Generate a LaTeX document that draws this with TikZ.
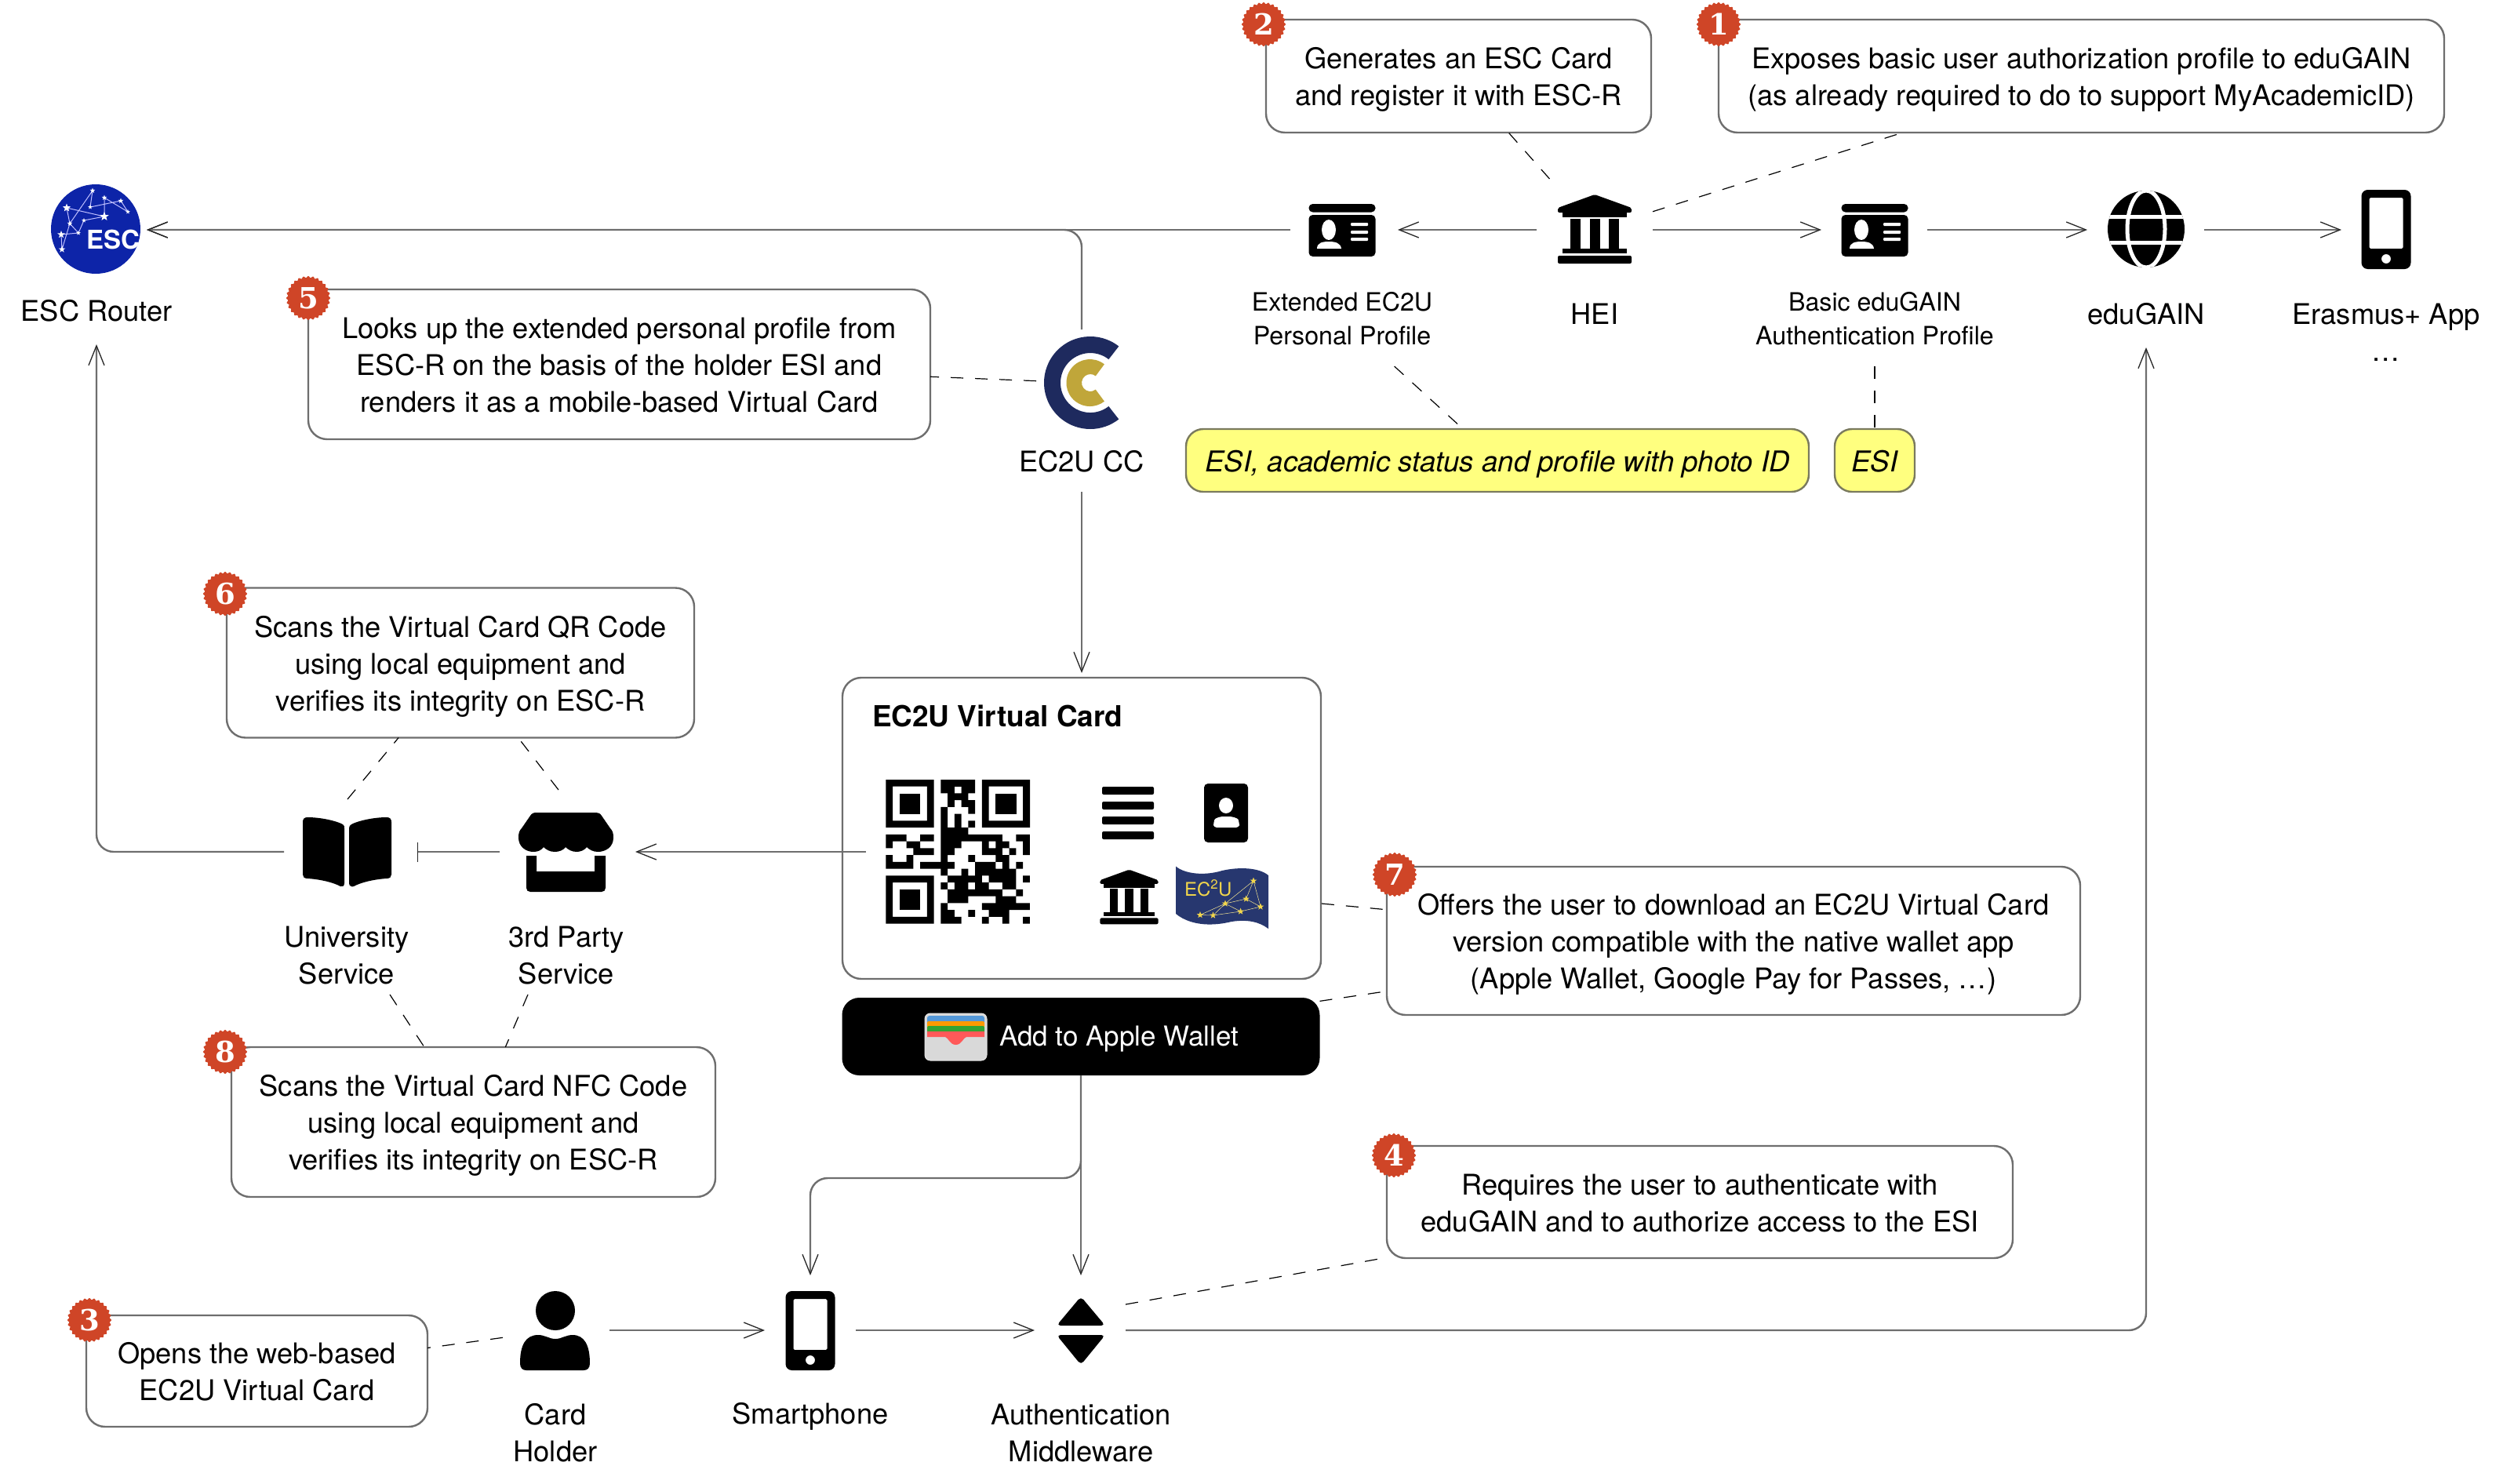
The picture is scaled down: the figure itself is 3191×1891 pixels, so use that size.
\documentclass[tikz,border=0pt]{standalone}
\usepackage{fontspec}
\setmainfont{TeX Gyre Heros}
\newfontfamily\badgefont{DejaVu Serif}
\usetikzlibrary{arrows.meta,shapes.geometric}
\definecolor{linegrey}{HTML}{6E6E6E}
\definecolor{badgered}{HTML}{CF4527}
\definecolor{noteyellow}{HTML}{FFFF7F}
\definecolor{yellowline}{HTML}{7A7A5E}
\definecolor{escblue}{HTML}{0D24A8}
\definecolor{ccnavy}{HTML}{1E2A5E}
\definecolor{ccgold}{HTML}{C0A63A}
\definecolor{flagnavy}{HTML}{27376F}
\definecolor{flaggold}{HTML}{F2D64B}
\newcommand{\nt}{\rule{0pt}{38pt}}
\newcommand{\nb}{\rule[-10pt]{0pt}{10pt}}
\tikzset{
  mainfont/.style={font=\fontsize{36.3}{47}\selectfont},
  smallfont/.style={font=\fontsize{32.2}{42.7}\selectfont},
  note/.style={draw=linegrey,line width=2.4pt,fill=white,rounded corners=24pt,align=center,inner sep=0pt,outer sep=0pt,mainfont},
  hl/.style={draw=yellowline,line width=2.4pt,fill=noteyellow,rounded corners=22pt,align=center,inner sep=0pt,outer sep=0pt,font=\fontsize{36.6}{47}\selectfont\itshape},
  lab/.style={align=center,inner sep=0pt,outer sep=0pt,mainfont},
  slab/.style={align=center,inner sep=0pt,outer sep=0pt,smallfont},
  hold/.style={inner sep=0pt,outer sep=0pt},
  arr/.style={draw=linegrey,line width=2.4pt,-{Straight Barb[length=25pt,width=20pt,line width=1.3pt,black!85]}},
  teearr/.style={draw=linegrey,line width=2.4pt,-{Bar[width=25pt,line width=1.3pt,black!85]}},
  dash line/.style={draw=black,line width=1.2pt,dash pattern=on 16pt off 15pt},
  smallstar/.style={star,star points=5,star point ratio=2.4,fill=#1,inner sep=0pt,outer sep=0pt,minimum size=9pt},
  idcard/.pic={
    \fill[rounded corners=5pt] (-42.5,-33.5) -- (42.5,-33.5) -- (42.5,-23) -- (-42.5,-23) -- cycle;
    \fill[rounded corners=5pt] (-42.5,-19.5) -- (42.5,-19.5) -- (42.5,33.5) -- (-42.5,33.5) -- cycle;
    \fill[white] (-17,-0.5) ellipse (9pt and 13pt);
    \fill[white] (-32,23.5) .. controls (-32,16) and (-25,14.5) .. (-17,14.5) .. controls (-9,14.5) and (-2,16) .. (-1,23.5) -- cycle;
    \fill[white,rounded corners=1pt] (11,-9.5) rectangle (33,-5.5);
    \fill[white,rounded corners=1pt] (11,0.5) rectangle (33,4.5);
    \fill[white,rounded corners=1pt] (11,9.5) rectangle (33,13.5);
  },
  bank/.pic={
    \fill[rounded corners=2pt] (0,-44) -- (47,-27) -- (47,-21) -- (-47,-21) -- (-47,-27) -- cycle;
    \fill (-41,-22) rectangle (41,-15);
    \fill (-31,-13) rectangle (-18,25);
    \fill (-6.5,-13) rectangle (6.5,25);
    \fill (18,-13) rectangle (31,25);
    \fill (-41,25) rectangle (41,31);
    \fill[rounded corners=2pt] (-47,34) rectangle (47,44);
  },
  phone/.pic={
    \fill[even odd rule,rounded corners=8pt] (-31.5,-50.5) rectangle (31.5,50.5)
      [rounded corners=1.5pt] (-21.5,-40.5) rectangle (21.5,24.5) (0,37.5) circle (6pt);
  }
}
\newcommand{\badge}[4]{%
  \fill[badgered] plot[domain=0:360,samples=181] ({#2+(27+1.1*cos(28*\x))*cos(\x)},{#3+(27+1.1*cos(28*\x))*sin(\x)}) -- cycle;
  \node[hold,text=white,font=\badgefont\fontsize{37}{37}\selectfont\bfseries] (#1) at (#2,#3) {#4};}
\begin{document}
\begin{tikzpicture}[x=1pt,y=-1pt]
\useasboundingbox (0,0) rectangle (3191,1891);
\fill[white] (0,0) rectangle (3191,1891);

% note boxes
\node[note,minimum width=491pt,minimum height=144pt] (box2) at (1859.5,97) {\nt Generates an ESC Card\\and register it with ESC-R\nb};
\node[note,minimum width=925pt,minimum height=144pt] (box1) at (2653.5,97) {\nt Exposes basic user authorization profile to eduGAIN\\(as already required to do to support MyAcademicID)\nb};
\node[note,minimum width=793pt,minimum height=191pt] (box5) at (789.5,464.5) {\nt Looks up the extended personal profile from\\ESC-R on the basis of the holder ESI and\\renders it as a mobile-based Virtual Card\nb};
\node[note,minimum width=596pt,minimum height=191pt] (box6) at (587,845) {\nt Scans the Virtual Card QR Code\\using local equipment and\\verifies its integrity on ESC-R\nb};
\node[note,minimum width=617pt,minimum height=191pt] (box8) at (603.5,1430.5) {\nt Scans the Virtual Card NFC Code\\using local equipment and\\verifies its integrity on ESC-R\nb};
\node[note,minimum width=435pt,minimum height=142pt] (box3) at (327.5,1748) {\nt Opens the web-based\\EC2U Virtual Card\nb};
\node[note,minimum width=798pt,minimum height=143pt] (box4) at (2167,1532.5) {\nt Requires the user to authenticate with\\eduGAIN and to authorize access to the ESI\nb};
\node[note,minimum width=884pt,minimum height=189pt] (box7) at (2210,1199.5) {\nt Offers the user to download an EC2U Virtual Card\\version compatible with the native wallet app\\(Apple Wallet, Google Pay for Passes, \ldots)\nb};
\node[hl,minimum width=794pt,minimum height=80pt] (yel1) at (1909,587) {\nt ESI, academic status and profile with photo ID\nb};
\node[hl,minimum width=102pt,minimum height=80pt] (yel2) at (2390,587) {\nt ESI\nb};

% Virtual Card
\node[note,minimum width=610pt,minimum height=384pt] (vc) at (1379,1056) {};
\node[inner sep=0pt,outer sep=0pt,anchor=west,font=\fontsize{37}{44}\selectfont\bfseries] (vctitle) at (1112,913) {EC2U Virtual Card};
\node[hold,minimum width=609pt,minimum height=99pt,fill=black,rounded corners=22pt] (btn) at (1378,1321.5) {};
\node[hold,text=white,anchor=west,font=\fontsize{35}{40}\selectfont] (btntext) at (1274,1325) {Add to Apple Wallet};

% wallet icon
\fill[fill=black!15!white,draw=white!90!black,line width=1pt,rounded corners=7pt] (1179,1292) rectangle (1258,1352);
\fill[rounded corners=3pt,fill=cyan!60!blue!70!white] (1182,1295) rectangle (1255,1306);
\fill[rounded corners=2pt,fill=orange!80!yellow] (1182,1302) rectangle (1255,1311);
\fill[rounded corners=2pt,fill=green!55!black!80!white] (1182,1308) rectangle (1255,1317);
\fill[fill=red!65!white] (1182,1315) -- (1255,1315) -- (1255,1322) -- (1232,1322) .. controls (1228,1323) and (1226,1332) .. (1218.5,1332) .. controls (1211,1332) and (1209,1323) .. (1205,1322) -- (1182,1322) -- cycle;

% QR code
\node[hold,minimum width=234pt,minimum height=184pt] (qr) at (1221,1086) {};
\fill[even odd rule] (1129.4,994) rectangle ++(61.2,61.2) (1138.1,1002.7) rectangle ++(43.7,43.7);
\fill (1146.9,1011.5) rectangle ++(26.2,26.2);
\fill[even odd rule] (1251.8,994) rectangle ++(61.2,61.2) (1260.5,1002.7) rectangle ++(43.7,43.7);
\fill (1269.3,1011.5) rectangle ++(26.2,26.2);
\fill[even odd rule] (1129.4,1116.4) rectangle ++(61.2,61.2) (1138.1,1125.1) rectangle ++(43.7,43.7);
\fill (1146.9,1133.9) rectangle ++(26.2,26.2);
\fill \foreach \r/\c/\n in {0/8/5,1/8/2,1/11/2,2/9/3,3/9/1,3/11/2,4/8/1,4/12/1,5/8/1,5/10/1,6/8/1,6/10/1,6/12/1,7/8/4,
  8/0/3,8/5/2,8/8/9,8/19/2,
  9/0/1,9/3/2,9/8/3,9/14/1,9/16/2,9/20/1,
  10/4/3,10/8/2,10/14/3,10/18/1,10/20/1,
  11/0/1,11/3/1,11/8/1,11/12/1,11/16/2,
  12/0/4,12/5/5,12/13/3,12/17/1,12/19/1,
  13/8/1,13/11/1,13/13/6,
  14/9/5,14/15/4,14/20/1,
  15/8/1,15/10/2,15/13/2,15/17/2,
  16/9/8,16/19/1,
  17/9/3,17/16/3,
  18/8/1,18/14/7,
  19/8/2,19/12/1,19/15/3,
  20/8/3,20/14/1,20/17/1,20/20/1}
  { ({1129.4+\c*8.74},{994+\r*8.74}) rectangle ({1129.4+(\c+\n)*8.74},{994+(\r+1)*8.74}) };

% mini icons in the card
\foreach \yy in {1003,1022,1041,1060} \fill[rounded corners=2pt] (1405,\yy) rectangle (1471,\yy+10);
\fill[rounded corners=5pt] (1535,999) rectangle (1591,1074);
\fill[white] (1563,1027) ellipse (9pt and 10pt);
\fill[white,rounded corners=4pt] (1547,1055) -- (1547,1049) .. controls (1549,1043) and (1556,1041) .. (1563,1041) .. controls (1571,1041) and (1578,1043) .. (1580,1049) -- (1580,1055) -- cycle;
\pic[scale=.79] at (1439.5,1143.5) {bank};
\fill[flagnavy] (1499,1104.5) .. controls (1510,1114) and (1535,1117) .. (1558,1110) .. controls (1580,1105) and (1605,1106) .. (1617,1116) -- (1617,1184) .. controls (1605,1175) and (1590,1172) .. (1570,1175) .. controls (1550,1180) and (1520,1182) .. (1499,1165) -- cycle;
\draw[flaggold!60!white,line width=.5pt] (1598,1123) -- (1562,1152) -- (1530,1166.5) (1598,1123) -- (1607,1156) -- (1581.6,1162) -- (1546.5,1167) -- (1562,1152) -- (1588.6,1146) -- (1607,1156) (1562,1152) -- (1581.6,1162) (1530,1166.5) -- (1546.5,1167) (1598,1123) -- (1588.6,1146);
\foreach \px/\py in {1598/1123,1588.6/1146,1607/1156,1562/1152,1581.6/1162,1530/1166.5,1546.5/1167}
  \node[smallstar=flaggold] at (\px,\py) {};
\node[hold,text=flaggold,font=\fontsize{24}{24}\selectfont,anchor=west] (flagtext) at (1510,1132) {EC\textsuperscript{2}U};

% ESC logo
\node[hold,minimum width=130pt,minimum height=130pt] (esc) at (122,293) {};
\fill[escblue] (122,292) circle (57pt);
\draw[white!75!blue,line width=1pt] (118,243) -- (89,285) -- (79,318) (118,243) -- (115,264) -- (154,256) (133,252) -- (163,270) -- (154,256) (133,252) -- (133,276) -- (85,265) -- (89,285) -- (100,297) (133,276) -- (107,281) -- (100,297) -- (78,299) -- (79,318);
\foreach \px/\py/\sz in {118/243/7,85/265/11,115/264/6,133/252/7,154/256/7,163/270/6,133/276/12,89/285/7,107/281/6,100/297/6,78/299/10,79/318/9}
  \node[star,star points=5,star point ratio=2.4,fill=white,inner sep=0pt,minimum size=\sz pt] at (\px,\py) {};
\node[hold,text=white,font=\fontsize{33}{33}\selectfont\bfseries] (esctext) at (144,305) {ESC};
\node[lab,minimum height=86pt] (esclab) at (123,396) {ESC Router};

% CC logo
\node[hold,minimum width=116pt,minimum height=136pt] (cc) at (1379,488) {};
\fill[ccnavy] (1426.3,441.5) arc[start angle=52,end angle=308,radius=59pt] -- (1413.4,518) arc[start angle=308,end angle=52,radius=38pt] -- cycle;
\fill[ccgold] (1407.9,464.4) arc[start angle=52,end angle=308,radius=30pt] -- (1396.8,496.7) arc[start angle=308,end angle=52,radius=11pt] -- cycle;
\node[lab,minimum height=78pt] (cclab) at (1379,588) {EC2U CC};

% top row
\node[hold,minimum width=137pt,minimum height=130pt] (ext) at (1713.5,293) {};
\pic at (1711,293.5) {idcard};
\node[slab,minimum height=122pt] (extlab) at (1711,406) {Extended EC2U\\Personal Profile};
\node[hold,minimum width=148pt,minimum height=130pt] (hei) at (2033,293) {};
\pic at (2033,292) {bank};
\node[lab] (heilab) at (2033,400) {HEI};
\node[hold,minimum width=135pt,minimum height=130pt] (bas) at (2389.5,293) {};
\pic at (2390,293.5) {idcard};
\node[slab,minimum height=122pt] (baslab) at (2390,406) {Basic eduGAIN\\Authentication Profile};
\node[hold,minimum width=149pt,minimum height=130pt] (edu) at (2735.5,293) {};
\fill (2736,292) circle (49pt);
\begin{scope}
  \clip (2736,292) circle (49pt);
  \draw[white,line width=5pt] (2736,292) ellipse (24pt and 49pt);
  \draw[white,line width=5pt] (2680,276.5) -- (2790,276.5) (2680,309.5) -- (2790,309.5);
\end{scope}
\node[lab,minimum height=86pt] (edulab) at (2736,400) {eduGAIN};
\node[hold,minimum width=114pt,minimum height=130pt] (era) at (3042,293) {};
\pic at (3042,292.5) {phone};
\node[lab] (eralab) at (3042,424) {Erasmus+ App\\\ldots};

% services
\node[hold,minimum width=170pt,minimum height=130pt] (uni) at (447,1086) {};
\fill (392,1042) .. controls (410,1042) and (430,1047) .. (437,1051) .. controls (439,1052) and (439,1054) .. (439,1056) -- (439,1126) .. controls (439,1130) and (436,1131) .. (434,1130) .. controls (425,1125) and (408,1121) .. (392,1120) .. controls (388,1120) and (386,1118) .. (386,1115) -- (386,1048) .. controls (386,1044) and (388,1042) .. (392,1042) -- cycle;
\fill (493,1042) .. controls (475,1042) and (455,1047) .. (448,1051) .. controls (446,1052) and (445,1054) .. (445,1056) -- (445,1126) .. controls (445,1130) and (449,1131) .. (451,1130) .. controls (460,1125) and (477,1121) .. (493,1120) .. controls (497,1120) and (499,1118) .. (499,1115) -- (499,1048) .. controls (499,1044) and (497,1042) .. (493,1042) -- cycle;
\node[lab] (unilab) at (442,1218) {University\\Service};
\node[hold,minimum width=173pt,minimum height=130pt] (shop) at (723.5,1086) {};
\fill (684,1036) -- (760,1036) .. controls (763,1036) and (765,1037) .. (767,1040) -- (778,1056) .. controls (781,1059) and (782,1062) .. (782,1068) .. controls (782,1080) and (772,1086) .. (762,1086) .. controls (756,1086) and (751,1083) .. (748,1080) .. controls (745,1084) and (740,1086) .. (735,1086) .. controls (729,1086) and (724,1083) .. (721,1080) .. controls (718,1084) and (713,1086) .. (707,1086) .. controls (701,1086) and (696,1083) .. (693,1080) .. controls (690,1084) and (686,1086) .. (680,1086) .. controls (670,1086) and (661,1079) .. (661,1068) .. controls (661,1062) and (662,1059) .. (665,1056) -- (676,1040) .. controls (678,1037) and (680,1036) .. (684,1036) -- cycle;
\fill (671,1091) -- (684,1091) -- (684,1111) -- (758,1111) -- (758,1091) -- (772,1091) -- (772,1132) .. controls (772,1135) and (770,1137) .. (767,1137) -- (676,1137) .. controls (673,1137) and (671,1135) .. (671,1132) -- cycle;
\node[lab] (shoplab) at (722,1218) {3rd Party\\Service};

% bottom row
\node[hold,minimum width=136pt,minimum height=140pt] (holder) at (709,1696) {};
\fill (708,1671) ellipse (25pt and 25pt);
\fill (663,1738) .. controls (663,1715) and (670,1702) .. (686,1702) .. controls (695,1702) and (700,1707) .. (708,1707) .. controls (716,1707) and (721,1702) .. (730,1702) .. controls (745,1702) and (752,1715) .. (752,1738) .. controls (752,1744) and (749,1747) .. (744,1747) -- (671,1747) .. controls (666,1747) and (663,1744) .. (663,1738) -- cycle;
\node[lab] (holderlab) at (708,1827) {Card\\Holder};
\node[hold,minimum width=116pt,minimum height=140pt] (smart) at (1033,1696) {};
\pic at (1033,1696.5) {phone};
\node[lab] (smartlab) at (1033,1806) {Smartphone};
\node[hold,minimum width=116pt,minimum height=140pt] (mw) at (1377,1696) {};
\fill[rounded corners=5pt] (1378,1653) -- (1409,1690) -- (1347,1690) -- cycle;
\fill[rounded corners=5pt] (1378,1740) -- (1409,1702) -- (1347,1702) -- cycle;
\node[lab] (mwlab) at (1378,1827) {Authentication\\Middleware};

% free ends of the dashed connectors
\coordinate (uniN) at (443,1019);
\coordinate (shopN) at (712,1007);
\coordinate (uniS) at (497,1268);
\coordinate (shopS) at (673,1268);
\coordinate (mwNE) at (1435,1663);
\coordinate (vcE) at (1685,1152);
\coordinate (bend) at (1200,1502);

% solid connectors
\draw[arr] (ext.west) -- (esc.east);
\draw[arr,rounded corners=22pt] (cc.north) |- (esc.east);
\draw[arr] (hei.west) -- (ext.east);
\draw[arr] (hei.east) -- (bas.west);
\draw[arr] (bas.east) -- (edu.west);
\draw[arr] (edu.east) -- (era.west);
\draw[arr,shorten >=6pt] (cclab.south) -- (vc.north);
\draw[arr] (qr.west) -- (shop.east);
\draw[teearr] (shop.west) -- (uni.east);
\draw[arr,rounded corners=22pt] (uni.west) -| (esclab.south);
\draw[arr,rounded corners=22pt] (btn.south) |- (bend -| smart.north) -- (smart.north);
\draw[arr] (btn.south) -- (btn.south |- mw.north);
\draw[arr] (holder.east) -- (smart.west);
\draw[arr] (smart.east) -- (mw.west);
\draw[arr,rounded corners=22pt] (mw.east) -| (edulab.south);

% dashed connectors
\draw[dash line] (hei) -- (box2);
\draw[dash line] (hei) -- (box1);
\draw[dash line] (cc) -- (box5);
\draw[dash line] (extlab) -- (yel1);
\draw[dash line] (baslab) -- (yel2);
\draw[dash line] (uniN) -- (box6);
\draw[dash line] (shopN) -- (box6);
\draw[dash line] (uniS) -- (box8);
\draw[dash line] (shopS) -- (box8);
\draw[dash line] (holder) -- (box3);
\draw[dash line] (mwNE) -- (box4);
\draw[dash line] (vcE) -- (box7);
\draw[dash line] (btn) -- (box7);

% badges
\badge{b2}{1611}{31}{2}
\badge{b1}{2191}{31}{1}
\badge{b5}{393}{380}{5}
\badge{b6}{287}{757}{6}
\badge{b7}{1778}{1115}{7}
\badge{b8}{287}{1341}{8}
\badge{b4}{1777}{1473}{4}
\badge{b3}{114}{1683}{3}
\end{tikzpicture}
\end{document}
